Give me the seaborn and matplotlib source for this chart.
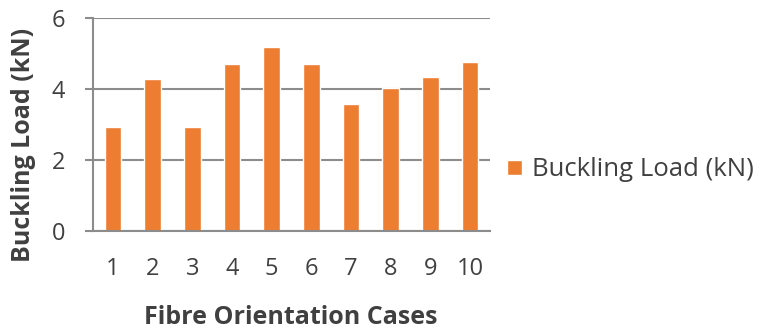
import matplotlib
matplotlib.use("Agg")
import matplotlib.pyplot as plt
import seaborn as sns
import pandas as pd

# Buckling load for each fibre orientation case
cases = ["1", "2", "3", "4", "5", "6", "7", "8", "9", "10"]
buckling_load = [2.93, 4.29, 2.93, 4.71, 5.18, 4.71, 3.57, 4.03, 4.34, 4.76]
series_name = "Buckling Load (kN)"
y_ticks = [0, 2, 4, 6]

df = pd.DataFrame({"case": cases, "load": buckling_load, "series": series_name})

sns.set_theme(style="white")
plt.rcParams["font.family"] = ["Open Sans", "DejaVu Sans"]

W, H = 763, 333
fig = plt.figure(figsize=(W / 100, H / 100), dpi=100)
left, right, top, bottom = 93, 490, 18, 231
ax = fig.add_axes([left / W, 1 - bottom / H, (right - left) / W, (bottom - top) / H])

bar_color = "#ED7D31"
grid_color = "#8C8C8C"
text_color = "#404040"

sns.barplot(data=df, x="case", y="load", hue="series", palette=[bar_color],
            width=0.42, ax=ax, legend=True, saturation=1)

ax.set_ylim(0, 6)
ax.set_xlim(-0.5, len(cases) - 0.5)
ax.set_yticks(y_ticks)
ax.set_yticklabels([str(t) for t in y_ticks])
ax.yaxis.grid(True, color=grid_color, linewidth=1.5)
ax.set_axisbelow(True)

for side in ["top", "right"]:
    ax.spines[side].set_visible(False)
for side in ["left", "bottom"]:
    ax.spines[side].set_color(grid_color)
    ax.spines[side].set_linewidth(1.5)

ax.tick_params(axis="y", length=6, width=1.5, color=grid_color, pad=14,
               labelsize=17, labelcolor=text_color, left=True)
ax.tick_params(axis="x", length=0, pad=19, labelsize=17, labelcolor=text_color)

ax.set_xlabel("Fibre Orientation Cases", fontsize=18, fontweight="bold", color=text_color)
ax.xaxis.set_label_coords((291 - left) / (right - left), 1 - (317 - top) / (bottom - top))
ax.xaxis.label.set_va("center")
ax.set_ylabel("Buckling Load (kN)", fontsize=18, fontweight="bold", color=text_color)
ax.yaxis.set_label_coords((24 - left) / (right - left), 1 - (145 - top) / (bottom - top))
ax.yaxis.label.set_va("center")

leg = ax.legend(loc="center left", bbox_to_anchor=(507 / W, 1 - 170 / H),
                bbox_transform=fig.transFigure, frameon=False, fontsize=18.5,
                handlelength=0.57, handleheight=0.57, handletextpad=0.42,
                borderpad=0, borderaxespad=0)
for t in leg.get_texts():
    t.set_color(text_color)

fig.savefig("out.png", dpi=100)
